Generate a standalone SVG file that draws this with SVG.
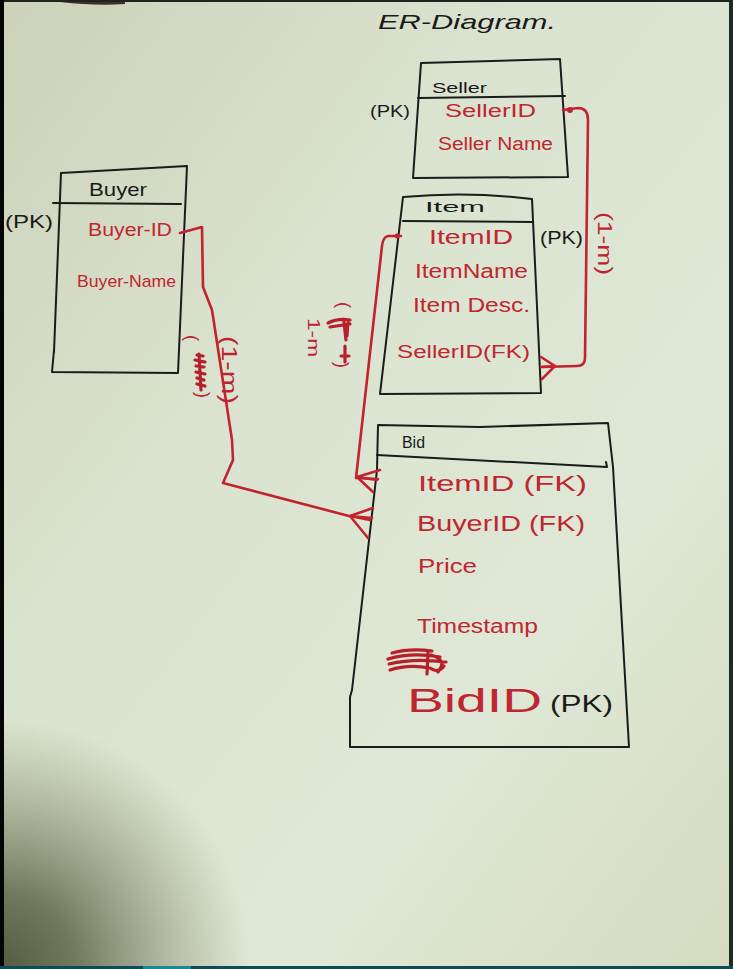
<svg xmlns="http://www.w3.org/2000/svg" width="733" height="969" viewBox="0 0 733 969">
  <defs>
    <linearGradient id="paper" x1="0" y1="0" x2="1" y2="1">
      <stop offset="0" stop-color="#ccd1b8"/>
      <stop offset="0.35" stop-color="#dae3cf"/>
      <stop offset="0.7" stop-color="#dfe8d6"/>
      <stop offset="1" stop-color="#d4dbc0"/>
    </linearGradient>
    <radialGradient id="shade" cx="0" cy="969" r="250" gradientUnits="userSpaceOnUse">
      <stop offset="0" stop-color="#4d5337" stop-opacity="0.95"/>
      <stop offset="0.3" stop-color="#565c3e" stop-opacity="0.8"/>
      <stop offset="1" stop-color="#7b8060" stop-opacity="0"/>
    </radialGradient>
    <style>
      .box { fill: none; stroke: #1b1b1b; stroke-width: 2; stroke-linejoin: round; stroke-linecap: round; }
      .wire { fill: none; stroke: #c3222f; stroke-width: 2.6; stroke-linejoin: round; stroke-linecap: round; }
      .blot { fill: none; stroke: #b81f2b; stroke-width: 3.2; stroke-linecap: round; stroke-linejoin: round; }
      .attr { font-family: "Liberation Sans", "DejaVu Sans", sans-serif; fill: #c0262f; }
      .ink { font-family: "Liberation Sans", "DejaVu Sans", sans-serif; fill: #1a1a1a; }
      .lbl { font-family: "Liberation Sans", "DejaVu Sans", sans-serif; fill: #bd2430; }
    </style>
  </defs>

  <!-- paper -->
  <rect x="0" y="0" width="733" height="969" fill="url(#paper)"/>
  <rect x="0" y="700" width="260" height="269" fill="url(#shade)"/>
  <rect x="0" y="0" width="733" height="2" fill="#222"/>
  <path d="M60 2 Q95 6 125 4 L125 2 Z" fill="#3a3226"/>
  <rect x="0" y="0" width="4" height="969" fill="#050505"/>
  <rect x="729" y="0" width="4" height="969" fill="#1d2a25"/>
  <rect x="0" y="966" width="733" height="3" fill="#0d4c56"/>
  <rect x="143" y="966" width="48" height="3" fill="#1b8797"/>

  <!-- title -->
  <text class="ink" x="378" y="29" font-size="21" font-style="italic" textLength="178" lengthAdjust="spacingAndGlyphs">ER-Diagram.</text>

  <!-- Seller -->
  <g id="seller">
    <path class="box" d="M421 63 L560 59 L568 177 L413 178 Z"/>
    <path class="box" d="M418 98 L565 96"/>
    <text class="ink" x="432" y="93" font-size="14" textLength="55" lengthAdjust="spacingAndGlyphs">Seller</text>
    <text class="ink" x="370" y="117" font-size="17" textLength="40" lengthAdjust="spacingAndGlyphs">(PK)</text>
    <text class="attr" x="445" y="117" font-size="18" textLength="91" lengthAdjust="spacingAndGlyphs">SellerID</text>
    <text class="attr" x="438" y="150" font-size="18" textLength="115" lengthAdjust="spacingAndGlyphs">Seller Name</text>
  </g>

  <!-- Buyer -->
  <g id="buyer">
    <path class="box" d="M61 173 L187 166 L178 373 L52 372 L54 350"/>
    <path class="box" d="M61 173 L54 352"/>
    <path class="box" d="M53 203 L181 204"/>
    <text class="ink" x="89" y="196" font-size="19" textLength="58" lengthAdjust="spacingAndGlyphs">Buyer</text>
    <text class="ink" x="5" y="228" font-size="18" textLength="48" lengthAdjust="spacingAndGlyphs">(PK)</text>
    <text class="attr" x="88" y="236" font-size="18" textLength="84" lengthAdjust="spacingAndGlyphs">Buyer-ID</text>
    <text class="attr" x="77" y="287" font-size="17" textLength="99" lengthAdjust="spacingAndGlyphs">Buyer-Name</text>
  </g>

  <!-- Item -->
  <g id="item">
    <path class="box" d="M403 197 Q468 191 532 199 L541 393 L380 394 Z"/>
    <path class="box" d="M403 221 L533 222"/>
    <text class="ink" x="425" y="212" font-size="15" textLength="60" lengthAdjust="spacingAndGlyphs">Item</text>
    <text class="attr" x="429" y="244" font-size="20" textLength="84" lengthAdjust="spacingAndGlyphs">ItemID</text>
    <text class="ink" x="540" y="244" font-size="18" textLength="43" lengthAdjust="spacingAndGlyphs">(PK)</text>
    <text class="attr" x="415" y="278" font-size="20" textLength="113" lengthAdjust="spacingAndGlyphs">ItemName</text>
    <text class="attr" x="413" y="312" font-size="20" textLength="117" lengthAdjust="spacingAndGlyphs">Item Desc.</text>
    <text class="attr" x="397" y="358" font-size="18" textLength="133" lengthAdjust="spacingAndGlyphs">SellerID(FK)</text>
  </g>

  <!-- Bid -->
  <g id="bid">
    <path class="box" d="M378 425 L480 427 L608 423 L613 467 L629 747 L350 747 L350 697 L352 690 L377 470 Z"/>
    <path class="box" d="M377 455 L607 467 L606 462"/>
    <text class="ink" x="402" y="448" font-size="16" textLength="23" lengthAdjust="spacingAndGlyphs">Bid</text>
    <text class="attr" x="418" y="491" font-size="22" textLength="169" lengthAdjust="spacingAndGlyphs">ItemID (FK)</text>
    <text class="attr" x="417" y="531" font-size="22" textLength="168" lengthAdjust="spacingAndGlyphs">BuyerID (FK)</text>
    <text class="attr" x="418" y="573" font-size="20" textLength="59" lengthAdjust="spacingAndGlyphs">Price</text>
    <text class="attr" x="417" y="633" font-size="20" textLength="121" lengthAdjust="spacingAndGlyphs">Timestamp</text>
    <!-- struck-out entry -->
    <path class="blot" d="M392 653 Q410 648 432 651 M388 659 Q412 652 440 657 M389 664 Q414 658 446 662 M390 670 Q408 664 430 668 Q438 674 444 666 M428 652 L427 674 M431 655 Q448 660 438 672"/>
    <text class="attr" x="407" y="712" font-size="34" textLength="135" lengthAdjust="spacingAndGlyphs">BidID</text>
    <text class="ink" x="550" y="712" font-size="24" textLength="63" lengthAdjust="spacingAndGlyphs">(PK)</text>
  </g>

  <!-- relationships -->
  <g id="connectors">
    <!-- Seller 1 - m Item -->
    <path class="wire" d="M563 110 L578 108 Q588 108 588 120 L585 358 Q585 366 577 366 L543 367"/>
    <circle cx="570" cy="110" r="3" fill="#c3222f"/>
    <path class="wire" d="M555 366 L541 357 M555 366 L541 367 M555 366 L542 379"/>
    <text class="lbl" transform="translate(598,212) rotate(90)" font-size="20" textLength="63" lengthAdjust="spacingAndGlyphs">(1-m)</text>

    <!-- Item 1 - m Bid -->
    <path class="wire" d="M401 236 L388 236 Q383 237 382 246 L356 478 L378 479"/>
    <circle cx="397" cy="236" r="2.5" fill="#c3222f"/>
    <path class="wire" d="M357 477 L380 470 M357 477 L377 480 M357 477 L373 492"/>
    <text class="lbl" transform="translate(308,318) rotate(90)" font-size="16" textLength="39" lengthAdjust="spacingAndGlyphs">1-m</text>
    <text class="lbl" transform="translate(338,302) rotate(90)" font-size="18">(</text>
    <text class="lbl" transform="translate(336,362) rotate(90)" font-size="18">)</text>
    <path class="blot" d="M328 323 Q338 318 350 320 M330 327 L350 324 M344 322 L346 340 M348 322 L347 336 M345 346 L345 362 M341 356 L349 356"/>

    <!-- Buyer 1 - m Bid -->
    <path class="wire" d="M180 233 L202 227 L203 287 L212 310 L232 440 L233 460 L223 483 L349 516 L372 518"/>
    <path class="wire" d="M350 516 L373 508 M350 516 L370 520 M350 516 L368 538"/>
    <text class="lbl" transform="translate(222,336) rotate(90)" font-size="22" textLength="68" lengthAdjust="spacingAndGlyphs">(1-m)</text>
    <text class="lbl" transform="translate(186,335) rotate(90)" font-size="18">(</text>
    <text class="lbl" transform="translate(197,392) rotate(90)" font-size="18">)</text>
    <path class="blot" d="M197 355 L203 356 M195 360 L205 362 M196 366 L204 367 M196 372 L205 374 M197 378 L204 380 M197 384 L205 386 M199 354 L201 390"/>
  </g>
</svg>
